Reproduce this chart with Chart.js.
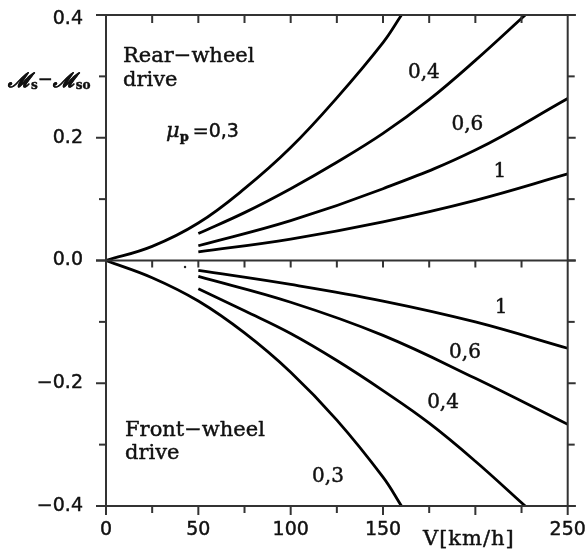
<!DOCTYPE html>
<html>
<head>
<meta charset="utf-8">
<script src="https://cdn.jsdelivr.net/npm/chart.js@4.4.1/dist/chart.umd.min.js"></script>
<style>
  html, body { margin: 0; padding: 0; background: #fff; }
  canvas { display: block; }
</style>
</head>
<body>
<canvas id="chart" width="586" height="552"></canvas>
<script>
// Speeds (km/h) at which each family of curves is sampled
const speedFull = [0, 25, 50, 75, 100, 125, 150, 160];
const speedMid = [50, 75, 100, 125, 150, 175, 200, 227];
const speedHigh = [50, 100, 150, 200, 250];

// Rear-wheel drive, Ms - Mso for each road friction coefficient
const rear03 = [0, 0.023, 0.061, 0.117, 0.184, 0.265, 0.355, 0.4];
const rear04 = [0.044, 0.078, 0.117, 0.16, 0.207, 0.262, 0.326, 0.4];
const rear06 = [0.024, 0.065, 0.117, 0.18, 0.264];
const rear1 = [0.014, 0.035, 0.063, 0.098, 0.141];

// Front-wheel drive
const front03 = [0, -0.028, -0.066, -0.118, -0.182, -0.26, -0.353, -0.4];
const front04 = [-0.046, -0.082, -0.119, -0.163, -0.212, -0.265, -0.327, -0.4];
const front06 = [-0.026, -0.068, -0.122, -0.192, -0.267];
const front1 = [-0.016, -0.039, -0.066, -0.1, -0.143];

// Small speck near the origin
const speckSpeed = [42.8];
const speckValue = [-0.0105];

// Axis ticks
const xTickLabels = [0, 50, 100, 150, 250];
const xMinorTicks = [25, 50, 75, 100, 125, 150, 175, 200, 225];
const yTickLabels = [0.4, 0.2, 0, -0.2, -0.4];
const yMinorTicks = [0.3, 0.1, -0.1, -0.3];

const toPoints = (xs, ys) => xs.map((x, i) => ({ x, y: ys[i] }));

const curve = (xs, ys) => ({
  data: toPoints(xs, ys),
  borderColor: '#000',
  borderWidth: 2.8,
  pointRadius: 0,
  fill: false,
  tension: 0.4,
  borderCapStyle: 'butt'
});

const fmt = v => (v < 0 ? '\u2212' : '') + Math.abs(v).toFixed(1);

const frame = {
  id: 'frame',
  afterDatasetsDraw(chart) {
    const ctx = chart.ctx;
    const xs = chart.scales.x, ys = chart.scales.y;
    const X = v => xs.getPixelForValue(v);
    const Y = v => ys.getPixelForValue(v);
    const x0 = X(0), x1 = X(250);
    const yTop = Y(0.4), yZero = Y(0), yBot = Y(-0.4);

    ctx.save();
    ctx.strokeStyle = '#333';
    ctx.lineWidth = 2;
    ctx.lineCap = 'butt';
    const line = (ax, ay, bx, by) => { ctx.beginPath(); ctx.moveTo(ax, ay); ctx.lineTo(bx, by); ctx.stroke(); };

    // horizontal rules at 0.4, 0 and -0.4
    [yTop, yZero, yBot].forEach(y => line(x0 - 10, y, x1 + 8, y));
    // vertical sides
    line(x0, yTop, x0, yBot + 9);
    line(x1, yTop, x1, yBot + 9);

    // left ticks
    yTickLabels.forEach(v => line(x0 - 10, Y(v), x0, Y(v)));
    yMinorTicks.forEach(v => line(x0 - 7, Y(v), x0, Y(v)));
    // right ticks
    yMinorTicks.forEach(v => line(x1, Y(v), x1 + 7, Y(v)));
    yTickLabels.forEach(v => line(x1, Y(v), x1 + 8, Y(v)));

    // ticks along top, zero line and bottom
    xMinorTicks.forEach(v => {
      const px = X(v);
      line(px, yTop, px, yTop + 8);
      line(px, yZero, px, yZero + 7);
      line(px, yBot, px, yBot + (v % 50 === 0 ? 9 : 7));
    });

    // text is filled and lightly stroked to give it some weight
    ctx.fillStyle = '#111';
    ctx.strokeStyle = '#111';
    ctx.lineWidth = 0.45;
    ctx.lineJoin = 'round';
    const text = (t, x, y) => { ctx.fillText(t, x, y); ctx.strokeText(t, x, y); };

    // tick labels
    ctx.font = '19px "DejaVu Sans"';
    ctx.textAlign = 'right';
    ctx.textBaseline = 'middle';
    yTickLabels.forEach(v => {
      const py = Math.max(Y(v), yTop + 4);
      text(fmt(v), x0 - 23, py);
    });
    ctx.textAlign = 'center';
    ctx.textBaseline = 'alphabetic';
    xTickLabels.forEach(v => text(String(v), X(v), yBot + 29));

    // x axis title
    ctx.font = '21px "DejaVu Serif"';
    ctx.letterSpacing = '1px';
    text('V[km/h]', X(196.5), yBot + 39);
    ctx.letterSpacing = '0px';

    // y axis title: Ms - Mso
    ctx.textAlign = 'left';
    let cx = 8;
    const base = Y(0.282);
    const part = (txt, font, dy) => {
      ctx.font = font;
      text(txt, cx, base + dy);
      cx += ctx.measureText(txt).width;
    };
    part('\u2133', 'italic bold 20px "DejaVu Serif"', 0);
    part('s', 'bold 12px "DejaVu Serif"', 2);
    part('\u2212', '18px "DejaVu Sans"', -2);
    part('\u2133', 'italic bold 20px "DejaVu Serif"', 0);
    part('so', 'bold 12px "DejaVu Serif"', 2);

    // region captions
    ctx.font = '21px "DejaVu Serif"';
    text('Rear\u2212wheel', X(9.2), Y(0.3235));
    text('drive', X(9.2), Y(0.2843));
    text('Front\u2212wheel', X(10.3), Y(-0.2865));
    text('drive', X(10.3), Y(-0.324));

    // friction coefficient caption
    cx = X(32.5);
    const mb = Y(0.201);
    ctx.font = 'italic 21px "DejaVu Serif"';
    text('\u03bc', cx, mb);
    cx += ctx.measureText('\u03bc').width;
    ctx.font = 'bold 13px "DejaVu Serif"';
    text('p', cx, mb + 4);
    cx += ctx.measureText('p').width + 4;
    ctx.font = '19px "DejaVu Sans"';
    text('=0,3', cx, mb);

    // curve labels
    ctx.font = '20px "DejaVu Serif"';
    ctx.textAlign = 'center';
    [
      ['0,4', 172.1, 0.297], ['0,6', 195.7, 0.2125], ['1', 213.3, 0.1363],
      ['1', 213.9, -0.086], ['0,6', 194.4, -0.159], ['0,4', 182.5, -0.2405],
      ['0,3', 120.2, -0.361]
    ].forEach(([t, v, m]) => text(t, X(v), Y(m)));
    ctx.restore();
  }
};

new Chart(document.getElementById('chart'), {
  type: 'line',
  data: {
    datasets: [
      curve(speedFull, rear03),
      curve(speedMid, rear04),
      curve(speedHigh, rear06),
      curve(speedHigh, rear1),
      curve(speedFull, front03),
      curve(speedMid, front04),
      curve(speedHigh, front06),
      curve(speedHigh, front1),
      {
        data: toPoints(speckSpeed, speckValue),
        showLine: false,
        pointRadius: 1.2,
        pointBackgroundColor: '#222',
        pointBorderWidth: 0
      }
    ]
  },
  options: {
    responsive: false,
    animation: false,
    events: [],
    layout: { padding: { left: 106, right: 18.3, top: 15, bottom: 46 } },
    plugins: { legend: { display: false }, tooltip: { enabled: false } },
    scales: {
      x: { type: 'linear', min: 0, max: 250, display: false },
      y: { type: 'linear', min: -0.4, max: 0.4, display: false }
    }
  },
  plugins: [frame]
});
</script>
</body>
</html>
